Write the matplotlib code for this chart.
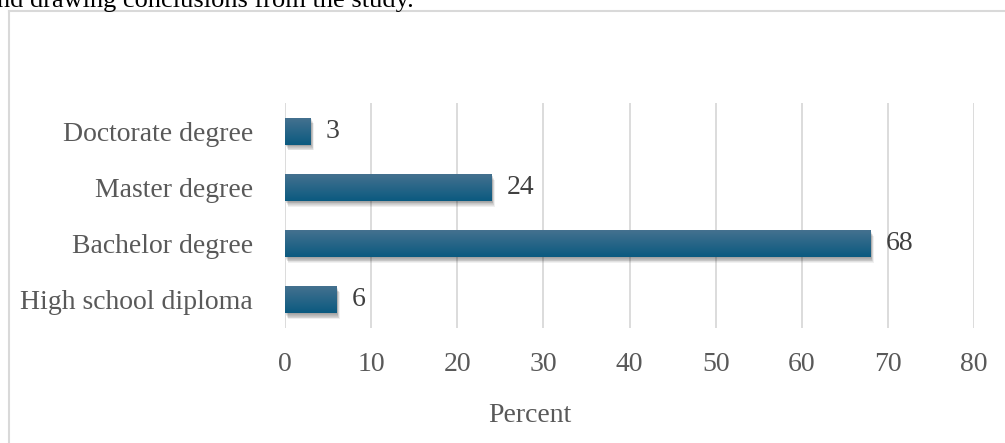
import numpy as np
import matplotlib
matplotlib.use("Agg")
import matplotlib.pyplot as plt
from matplotlib.patches import Rectangle
from matplotlib.lines import Line2D
from matplotlib.colors import LinearSegmentedColormap

# Education level of respondents (percent)
categories = ["High school diploma", "Bachelor degree", "Master degree", "Doctorate degree"]
percent = [6, 68, 24, 3]
x_ticks = [0, 10, 20, 30, 40, 50, 60, 70, 80]
x_label = "Percent"
lead_text = "nd drawing conclusions from the study."

plt.rcParams["font.family"] = ["Liberation Serif", "DejaVu Serif"]

W, H = 1005, 443
fig = plt.figure(figsize=(W / 100, H / 100), dpi=100)
fig.patch.set_facecolor("white")

# Plot area in pixel terms
left, right, top, bottom = 285, 974, 103, 328
ax = fig.add_axes([left / W, 1 - bottom / H, (right - left) / W, (bottom - top) / H])
ax.set_xlim(0, 80)
ax.set_ylim(-0.5, len(categories) - 0.5)

bar_h = 0.48
grad_cmap = LinearSegmentedColormap.from_list("bar", ["#0b5a80", "#44718f"])
grad = np.linspace(0, 1, 64).reshape(-1, 1)

px = 80 / (right - left)               # data units per pixel along x
py = len(categories) / (bottom - top)  # data units per pixel along y

for i, v in enumerate(percent):
    y0 = i - bar_h / 2
    # soft drop shadow under each bar
    for k in range(7):
        off = 1 + k * 0.8
        ax.add_patch(Rectangle((off * px * 0.5, y0 - off * py),
                               v, bar_h, facecolor="#000000",
                               alpha=0.06, edgecolor="none", zorder=2))
    face = Rectangle((0, y0), v, bar_h, facecolor="none", edgecolor="none", zorder=3)
    ax.add_patch(face)
    im = ax.imshow(grad, cmap=grad_cmap, aspect="auto", origin="lower",
                   extent=(0, v, y0, y0 + bar_h), zorder=3, interpolation="bilinear")
    im.set_clip_path(face)
    ax.text(v + 15 * px, i, str(v), va="center", ha="left",
            fontsize=20, color="#404040", zorder=4)

ax.set_xlim(0, 80)
ax.set_ylim(-0.5, len(categories) - 0.5)

ax.set_xticks(x_ticks)
ax.set_xticklabels([str(t) for t in x_ticks])
ax.set_yticks(range(len(categories)))
ax.set_yticklabels(categories)
ax.tick_params(axis="both", length=0, labelsize=20, labelcolor="#595959")
ax.tick_params(axis="x", pad=17)
ax.tick_params(axis="y", pad=23)

ax.grid(axis="x", color="#d9d9d9", linewidth=1.3, zorder=0)
ax.set_axisbelow(True)
for s in ax.spines.values():
    s.set_visible(False)

ax.set_xlabel(x_label, fontsize=20, color="#595959", labelpad=19)
ax.xaxis.set_label_coords((530 - left) / (right - left), -(415 - bottom) / (bottom - top),
                          transform=ax.transAxes)
ax.xaxis.label.set_verticalalignment("center")

# Frame of the chart box
fig.add_artist(Line2D([8.5 / W, 8.5 / W], [0, 1 - 11 / H], color="#d9d9d9", linewidth=1.5))
fig.add_artist(Line2D([8.5 / W, 1], [1 - 11 / H, 1 - 11 / H], color="#d9d9d9", linewidth=1.5))

# Running text above the chart box
fig.text(-3 / W, 1 - 7 / H, lead_text, fontsize=19, color="#000000", va="baseline", ha="left")

fig.savefig("out.png", dpi=100, facecolor="white")
